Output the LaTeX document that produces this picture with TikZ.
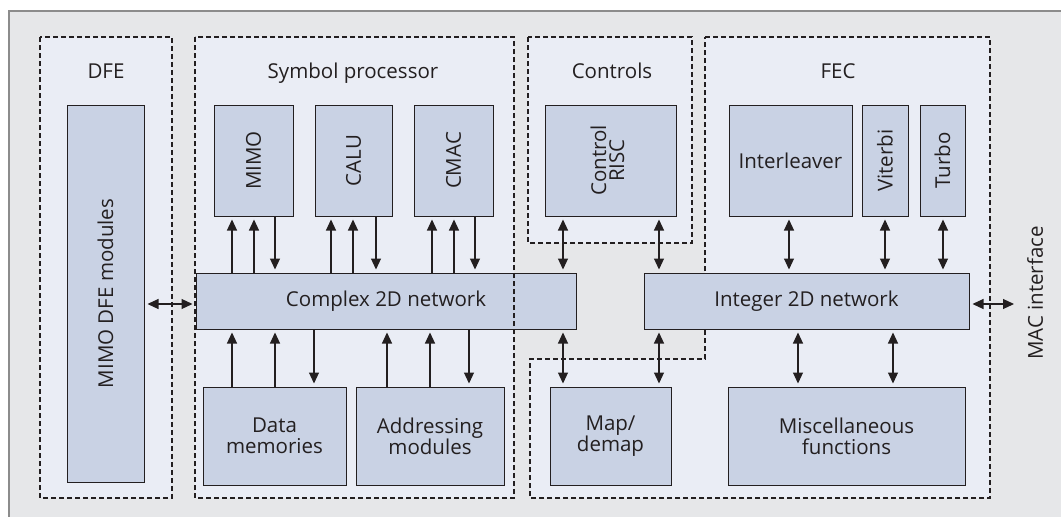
\documentclass[tikz,border=0pt]{standalone}
\usepackage{fontspec}
\setmainfont{Open Sans}
\usepackage{graphicx}
\usetikzlibrary{arrows.meta}
\definecolor{bgcol}{HTML}{E6E7E9}
\definecolor{zonecol}{HTML}{EAEDF5}
\definecolor{blkcol}{HTML}{C9D2E4}
\definecolor{inkcol}{HTML}{231F20}
\definecolor{framecol}{HTML}{8C8C8C}

\begin{document}
\begin{tikzpicture}[x=1pt,y=-1pt,
    blk/.style={draw=inkcol, line width=1pt, fill=blkcol, inner sep=0pt, text=inkcol,
      font=\fontsize{20.5}{21}\selectfont, align=center},
    zone/.style={draw=inkcol, line width=1.2pt, dash pattern=on 5pt off 3pt, fill=zonecol},
    zonetag/.style={anchor=base, inner sep=0pt, text=inkcol, font=\fontsize{20.5}{21}\selectfont},
    up/.style={draw=inkcol, line width=1.1pt, -{Triangle[length=11pt,width=10pt]}, shorten >=3pt},
    both/.style={up, {Triangle[length=11pt,width=10pt]}-{Triangle[length=11pt,width=10pt]}, shorten <=3pt}]
    \useasboundingbox (0,0) rectangle (1061,517);
    \fill[bgcol] (9,11) rectangle (1061,517);
    \draw[framecol, line width=1.2pt] (9,517) -- (9,11) -- (1061,11);

    % dashed areas
    \draw[zone] (40,37) rectangle (172,498);
    \draw[zone] (195,37) rectangle (514,498);
    \draw[zone] (528,37) rectangle (692,243);
    \draw[zone] (705,37) -- (990,37) -- (990,498) -- (530,498) -- (530,359) -- (705,359) -- cycle;
    \node (dfetag) [zonetag] at (106,78) {DFE};
    \node (symtag) [zonetag] at (353,78) {Symbol processor};
    \node (ctltag) [zonetag] at (612,78) {Controls};
    \node (fectag) [zonetag] at (838,78) {FEC};

    \node (dfemod) [blk, minimum width=77pt, minimum height=377pt] at (105.5,293.5) {\rotatebox{90}{MIMO DFE modules}};
    \node (mimo) [blk, minimum width=79pt, minimum height=111pt] at (253.5,160.5) {\rotatebox{90}{MIMO}};
    \node (calu) [blk, minimum width=77pt, minimum height=111pt] at (353.5,160.5) {\rotatebox{90}{CALU}};
    \node (cmac) [blk, minimum width=79pt, minimum height=111pt] at (453.5,160.5) {\rotatebox{90}{CMAC}};
    \node (risc) [blk, minimum width=131pt, minimum height=111pt] at (610.5,160.5)
      {\rotatebox{90}{\begin{tabular}{@{}c@{}}Control\\[-3pt]RISC\end{tabular}}};
    \node (intl) [blk, minimum width=123pt, minimum height=111pt] at (790.5,160.5) {Interleaver};
    \node (vit) [blk, minimum width=46pt, minimum height=111pt] at (885,160.5) {\rotatebox{90}{Viterbi}};
    \node (turbo) [blk, minimum width=45pt, minimum height=111pt] at (942.5,160.5) {\rotatebox{90}{Turbo}};
    \node (cnet) [blk, minimum width=380pt, minimum height=56pt] at (386,301) {Complex 2D network};
    \node (inet) [blk, minimum width=325pt, minimum height=56pt] at (806.5,301) {Integer 2D network};
    \node (dmem) [blk, minimum width=143pt, minimum height=98pt] at (274.5,436) {Data\\memories};
    \node (addr) [blk, minimum width=148pt, minimum height=98pt] at (430,436) {Addressing\\modules};
    \node (map) [blk, minimum width=121pt, minimum height=98pt] at (610.5,436) {Map/\\demap};
    \node (misc) [blk, minimum width=237pt, minimum height=98pt] at (846.5,436) {Miscellaneous\\functions};
    \draw[zone, fill=none] (195,37) rectangle (514,498);

    \foreach \blk/\a/\b/\c in {mimo/232/254/275, calu/331/353/376, cmac/432/454/475} {
      \draw[up] (\a,0 |- cnet.north) -- (\a,0 |- \blk.south);
      \draw[up] (\b,0 |- cnet.north) -- (\b,0 |- \blk.south);
      \draw[up] (\c,0 |- \blk.south) -- (\c,0 |- cnet.north);
    }
    \foreach \blk/\a/\b/\c in {dmem/232/275/314, addr/387/430/469} {
      \draw[up] (\a,0 |- \blk.north) -- (\a,0 |- cnet.south);
      \draw[up] (\b,0 |- \blk.north) -- (\b,0 |- cnet.south);
      \draw[up] (\c,0 |- cnet.south) -- (\c,0 |- \blk.north);
    }
    \draw[both] (563,0 |- risc.south) -- (563,0 |- cnet.north);
    \draw[both] (659,0 |- risc.south) -- (659,0 |- inet.north);
    \draw[both] (563,0 |- cnet.south) -- (563,0 |- map.north);
    \draw[both] (659,0 |- inet.south) -- (659,0 |- map.north);
    \draw[both] (789,0 |- intl.south) -- (789,0 |- inet.north);
    \draw[both] (vit.south) -- (vit.south |- inet.north);
    \draw[both] (943,0 |- turbo.south) -- (943,0 |- inet.north);
    \draw[both] (798,0 |- inet.south) -- (798,0 |- misc.north);
    \draw[both] (893,0 |- inet.south) -- (893,0 |- misc.north);
    \draw[both] (dfemod.east |- 0,304) -- (cnet.west |- 0,304);

    \coordinate (mac) at (1017,304);
    \draw[both] (inet.east |- mac) -- (mac);
    \node (mactag) [zonetag, anchor=center, rotate=90] at (1035,293) {MAC interface};
\end{tikzpicture}
\end{document}
